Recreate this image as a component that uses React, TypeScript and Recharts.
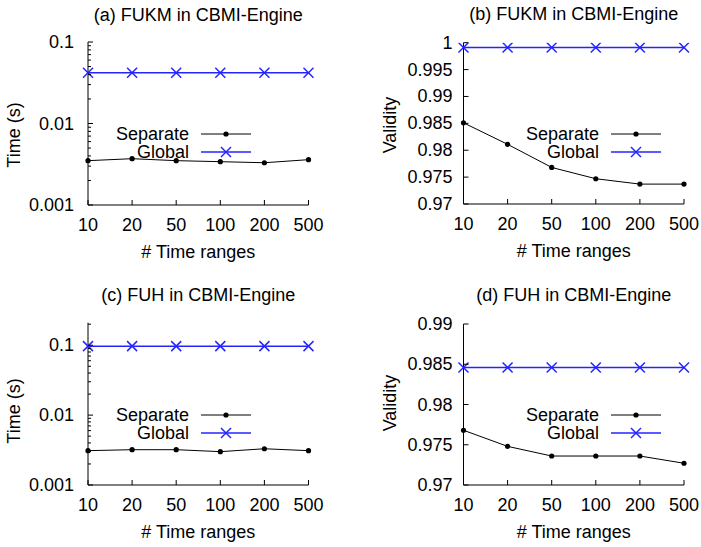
import React from "react";
import { LineChart, Line, XAxis, YAxis, Legend, Label } from "recharts";

const FONT = "'Liberation Sans', Arial, Helvetica, sans-serif";
const BLUE = "#2424ff";
const FS = 18;

const timeRanges = ["10", "20", "50", "100", "200", "500"];

const fukmTimeSeparate = [0.0035, 0.0037, 0.0035, 0.0034, 0.0033, 0.0036];
const fukmTimeGlobal = [0.042, 0.042, 0.042, 0.042, 0.042, 0.042];
const fukmValiditySeparate = [0.9851, 0.9811, 0.9768, 0.9747, 0.9737, 0.9737];
const fukmValidityGlobal = [0.9991, 0.9991, 0.9991, 0.9991, 0.9991, 0.9991];
const fuhTimeSeparate = [0.0031, 0.0032, 0.0032, 0.003, 0.0033, 0.0031];
const fuhTimeGlobal = [0.097, 0.097, 0.097, 0.097, 0.097, 0.097];
const fuhValiditySeparate = [0.9768, 0.9748, 0.9736, 0.9736, 0.9736, 0.9727];
const fuhValidityGlobal = [0.9846, 0.9846, 0.9846, 0.9846, 0.9846, 0.9846];

const decades = [0.001, 0.01, 0.1];
const logTicks = [
  0.001, 0.002, 0.003, 0.004, 0.005, 0.006, 0.007, 0.008, 0.009,
  0.01, 0.02, 0.03, 0.04, 0.05, 0.06, 0.07, 0.08, 0.09, 0.1,
];
const logTicksWide = [...logTicks, 0.2];
const validityTicksB = [0.97, 0.975, 0.98, 0.985, 0.99, 0.995, 1];
const validityTicksD = [0.97, 0.975, 0.98, 0.985, 0.99];
const seriesOrder = ["separate", "global"];

const rows = (sep: number[], glob: number[]) =>
  timeRanges.map((n, i) => ({ n, separate: sep[i], global: glob[i] }));

const isMajor = (log: boolean, v: number) =>
  !log || decades.some((d) => Math.abs(d - v) < 1e-9);

const CrossDot = (p: any) => {
  const { cx, cy } = p;
  if (cx == null || cy == null) return null;
  return (
    <g key={`x-${cx}`}>
      <line x1={cx - 5} y1={cy - 5} x2={cx + 5} y2={cy + 5} stroke={BLUE} strokeWidth={1.5} />
      <line x1={cx - 5} y1={cy + 5} x2={cx + 5} y2={cy - 5} stroke={BLUE} strokeWidth={1.5} />
    </g>
  );
};

interface PanelProps {
  title: string;
  data: Array<Record<string, unknown>>;
  log: boolean;
  domain: [number, number];
  ticks: number[];
  yLabel: string;
  width: number;
  height: number;
  margin: { top: number; right: number; left: number; bottom: number };
  yAxisWidth: number;
  xAxisHeight: number;
  labelGap: number;
  yLabelPos: [number, number];
  titleY: number;
  legendRight: number;
  legendTop: number;
}

function Panel(p: PanelProps) {
  const plotLeft = p.margin.left + p.yAxisWidth;
  const plotRight = p.width - p.margin.right;

  const bottomTick = (t: any) => (
    <g>
      <line x1={t.x} y1={t.y} x2={t.x} y2={t.y - 5} stroke="#000" />
      <text x={t.x} y={t.y + 20} textAnchor="middle" dominantBaseline="central"
        fontFamily={FONT} fontSize={FS} fill="#000">
        {t.payload.value}
      </text>
    </g>
  );
  const topTick = (t: any) => (
    <line x1={t.x} y1={t.y} x2={t.x} y2={t.y + 5} stroke="#000" />
  );
  const leftTick = (t: any) => {
    const v = t.payload.value;
    const major = isMajor(p.log, v);
    return (
      <g>
        <line x1={t.x} y1={t.y} x2={t.x + (major ? 5 : 3)} y2={t.y} stroke="#000" />
        {major && (
          <text x={t.x - p.labelGap} y={t.y} textAnchor="end" dominantBaseline="central"
            fontFamily={FONT} fontSize={FS} fill="#000">
            {String(v)}
          </text>
        )}
      </g>
    );
  };
  const rightTick = (t: any) => {
    const major = isMajor(p.log, t.payload.value);
    return <line x1={t.x} y1={t.y} x2={t.x - (major ? 5 : 3)} y2={t.y} stroke="#000" />;
  };

  const renderLegend = (props: any) => {
    const items = [...(props.payload || [])].sort(
      (a: any, b: any) => seriesOrder.indexOf(a.dataKey) - seriesOrder.indexOf(b.dataKey)
    );
    return (
      <div style={{ fontFamily: FONT, fontSize: FS, color: "#000" }}>
        {items.map((it: any) => {
          const cross = it.dataKey === "global";
          return (
            <div key={it.value} style={{ display: "flex", alignItems: "center", height: 18 }}>
              <span style={{ width: 110, textAlign: "right", lineHeight: "18px" }}>{it.value}</span>
              <svg width={50} height={18} style={{ marginLeft: 12 }}>
                <line x1={0} y1={9} x2={50} y2={9} stroke={it.color} strokeWidth={cross ? 1.5 : 1} />
                {cross ? (
                  <g stroke={BLUE} strokeWidth={1.5}>
                    <line x1={20} y1={4} x2={30} y2={14} />
                    <line x1={20} y1={14} x2={30} y2={4} />
                  </g>
                ) : (
                  <circle cx={25} cy={9} r={2.6} fill="#000" />
                )}
              </svg>
            </div>
          );
        })}
      </div>
    );
  };

  const [lx, ly] = p.yLabelPos;

  return (
    <div style={{ position: "relative", width: p.width, height: p.height }}>
      <div
        style={{
          position: "absolute",
          left: (plotLeft + plotRight) / 2 - 150,
          width: 300,
          top: p.titleY - 11,
          height: 22,
          lineHeight: "22px",
          textAlign: "center",
          fontFamily: FONT,
          fontSize: FS,
          color: "#000",
        }}
      >
        {p.title}
      </div>
      <LineChart width={p.width} height={p.height} data={p.data} margin={p.margin}>
        <XAxis dataKey="n" type="category" height={p.xAxisHeight} interval={0}
          tickSize={0} tickMargin={0} tickLine={false}
          axisLine={{ stroke: "#000" }} tick={bottomTick}>
          <Label
            content={(lp: any) => {
              const vb = lp.viewBox || {};
              return (
                <text x={vb.x + vb.width / 2} y={vb.y + 47} textAnchor="middle"
                  dominantBaseline="central" fontFamily={FONT} fontSize={FS} fill="#000">
                  # Time ranges
                </text>
              );
            }}
          />
        </XAxis>
        <XAxis xAxisId="top" dataKey="n" type="category" orientation="top" height={0}
          interval={0} tickSize={0} tickMargin={0} tickLine={false}
          axisLine={{ stroke: "#000" }} tick={topTick} />
        <YAxis scale={p.log ? "log" : "linear"} domain={p.domain} ticks={p.ticks}
          allowDataOverflow type="number" width={p.yAxisWidth} interval={0}
          tickSize={0} tickMargin={0} tickLine={false}
          axisLine={{ stroke: "#000" }} tick={leftTick}>
          <Label
            content={() => (
              <g transform={`translate(${lx}, ${ly}) rotate(-90)`}>
                <text x={0} y={0} textAnchor="middle" dominantBaseline="central"
                  fontFamily={FONT} fontSize={FS} fill="#000">
                  {p.yLabel}
                </text>
              </g>
            )}
          />
        </YAxis>
        <YAxis yAxisId="right" orientation="right" scale={p.log ? "log" : "linear"}
          domain={p.domain} ticks={p.ticks} allowDataOverflow type="number" width={0}
          interval={0} tickSize={0} tickMargin={0} tickLine={false}
          axisLine={{ stroke: "#000" }} tick={rightTick} />
        <Legend verticalAlign="middle" align="center" layout="horizontal"
          wrapperStyle={{ top: p.legendTop, left: p.legendRight - 110, width: 180 }}
          content={renderLegend} />
        <Line type="linear" dataKey="separate" name="Separate" stroke="#000" strokeWidth={1}
          dot={{ r: 2.6, fill: "#000", stroke: "none" }} activeDot={false}
          isAnimationActive={false} />
        <Line type="linear" dataKey="global" name="Global" stroke={BLUE} strokeWidth={1.5}
          dot={CrossDot} activeDot={false} isAnimationActive={false} />
      </LineChart>
    </div>
  );
}

export default function App() {
  return (
    <div style={{ position: "absolute", left: 0, top: 0, width: 701, height: 547, background: "#fff" }}>
      <div style={{ position: "absolute", left: 0, top: 0 }}>
        <Panel title="(a) FUKM in CBMI-Engine" data={rows(fukmTimeSeparate, fukmTimeGlobal)}
          log domain={[0.001, 0.1]} ticks={logTicks} yLabel="Time (s)"
          width={350} height={270} margin={{ top: 42, right: 41.5, left: 0, bottom: 0 }}
          yAxisWidth={88} xAxisHeight={65} labelGap={14} yLabelPos={[13.5, 135]}
          titleY={15} legendRight={189} legendTop={125} />
      </div>
      <div style={{ position: "absolute", left: 350, top: 0 }}>
        <Panel title="(b) FUKM in CBMI-Engine" data={rows(fukmValiditySeparate, fukmValidityGlobal)}
          log={false} domain={[0.97, 1]} ticks={validityTicksB} yLabel="Validity"
          width={350} height={270} margin={{ top: 42.7, right: 16, left: 0, bottom: 0 }}
          yAxisWidth={113.5} xAxisHeight={66} labelGap={11} yLabelPos={[39.5, 125]}
          titleY={14} legendRight={249} legendTop={125} />
      </div>
      <div style={{ position: "absolute", left: 0, top: 270 }}>
        <Panel title="(c) FUH in CBMI-Engine" data={rows(fuhTimeSeparate, fuhTimeGlobal)}
          log domain={[0.001, 0.21]} ticks={logTicksWide} yLabel="Time (s)"
          width={350} height={277} margin={{ top: 52.7, right: 41.5, left: 0, bottom: 0 }}
          yAxisWidth={88} xAxisHeight={62} labelGap={14} yLabelPos={[13.5, 141]}
          titleY={25} legendRight={189} legendTop={136} />
      </div>
      <div style={{ position: "absolute", left: 350, top: 270 }}>
        <Panel title="(d) FUH in CBMI-Engine" data={rows(fuhValiditySeparate, fuhValidityGlobal)}
          log={false} domain={[0.97, 0.99]} ticks={validityTicksD} yLabel="Validity"
          width={350} height={277} margin={{ top: 54, right: 16, left: 0, bottom: 0 }}
          yAxisWidth={113.5} xAxisHeight={62} labelGap={11} yLabelPos={[39.5, 133]}
          titleY={25} legendRight={249} legendTop={136} />
      </div>
    </div>
  );
}
